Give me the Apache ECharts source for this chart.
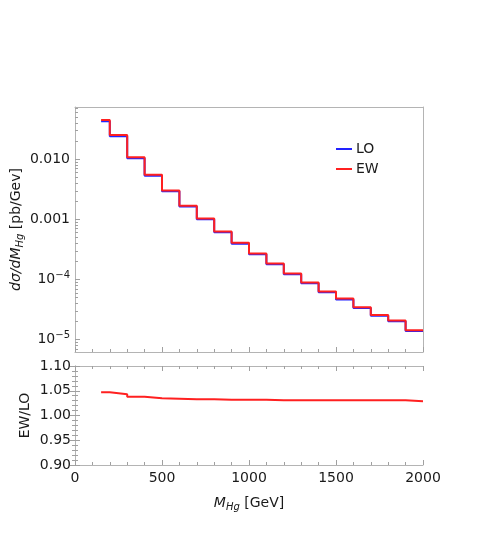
<!DOCTYPE html>
<html>
<head>
<meta charset="utf-8">
<script src="https://cdn.jsdelivr.net/npm/echarts@6/dist/echarts.min.js"></script>
<style>html,body{margin:0;padding:0;background:#fff;}#c{width:498px;height:540px;}</style>
</head>
<body>
<div id="c"></div>
<script>
// Bin edges (GeV)
var binEdges = [150,200,300,400,500,600,700,800,900,1000,1100,1200,1300,1400,1500,1600,1700,1800,1900,2000];
// dσ/dM per bin [pb/GeV]
var ewValues = [0.0452,0.0254,0.0108,0.00554,0.00304,0.00169,0.00104,6.3e-4,4.07e-4,2.71e-4,1.85e-4,1.26e-4,8.9e-5,6.3e-5,4.8e-5,3.45e-5,2.57e-5,2.07e-5,1.43e-5];
var loValues = [0.0432,0.02435,0.0104,0.00535,0.00294,0.001636,0.001007,6.10e-4,3.94e-4,2.63e-4,1.794e-4,1.222e-4,8.63e-5,6.11e-5,4.66e-5,3.35e-5,2.49e-5,2.01e-5,1.39e-5];
// EW/LO ratio per bin
var ratioValues = [1.047,1.043,1.038,1.035,1.034,1.033,1.033,1.032,1.032,1.032,1.031,1.031,1.031,1.031,1.031,1.031,1.031,1.031,1.029];
// Tick values
var xTicks = [0,500,1000,1500,2000];
var logMajor = [1e-5,1e-4,1e-3,1e-2];
var ratioTicks = [0.90,0.95,1.00,1.05,1.10];

function steps(vals){
  var d = [];
  for (var i=0;i<vals.length;i++) d.push([binEdges[i], vals[i]]);
  d.push([binEdges[binEdges.length-1], vals[vals.length-1]]);
  return d;
}
var logMinor = [];
for (var e=-6;e<=-2;e++){ for (var m=2;m<=9;m++){ var v=m*Math.pow(10,e); if (v>6.2e-6 && v<0.0744) logMinor.push(v);} }

var FONT = 'DejaVu Sans';
var TXT = '#1a1a1a';
var FRAME = '#b4b4b4';
var TICK = '#a0a0a0';
var FS = 14;
var yMinTop = 6.2e-6, yMaxTop = 0.0744;

var chart = echarts.init(document.getElementById('c'), null, {renderer:'canvas'});
chart.setOption({
  animation:false,
  backgroundColor:'#fff',
  textStyle:{fontFamily:FONT},
  grid:[
    {left:75, width:348, top:107, height:245, containLabel:false, outerBoundsMode:'none'},
    {left:75, width:348, top:366, height:99, containLabel:false, outerBoundsMode:'none'}
  ],
  legend:{
    data:[{name:'LO', icon:'rect'},{name:'EW', icon:'rect'}], orient:'vertical', left:331, top:137,
    itemWidth:16, itemHeight:2, itemGap:6,
    textStyle:{fontFamily:FONT, fontSize:FS, color:TXT, padding:[0,0,0,-1]}
  },
  xAxis:[
    {gridIndex:0, type:'value', min:0, max:2000, interval:500, position:'bottom',
     axisLine:{lineStyle:{color:FRAME}}, axisLabel:{show:false},
     axisTick:{inside:true, length:5, lineStyle:{color:TICK}},
     minorTick:{show:true, splitNumber:5, length:3, lineStyle:{color:TICK}},
     splitLine:{show:false}},
    {gridIndex:0, type:'value', min:0, max:2000, position:'top',
     axisLine:{lineStyle:{color:FRAME}}, axisLabel:{show:false}, axisTick:{show:false}, splitLine:{show:false}},
    {gridIndex:1, type:'value', min:0, max:2000, interval:500, position:'bottom',
     axisLine:{lineStyle:{color:FRAME}},
     axisLabel:{fontSize:FS, color:TXT, margin:6, fontFamily:FONT, formatter:function(v){return String(v);}},
     axisTick:{inside:true, length:5, lineStyle:{color:TICK}},
     minorTick:{show:true, splitNumber:5, length:3, lineStyle:{color:TICK}},
     splitLine:{show:false},
     name:'{i|M}{s|Hg}{n| [GeV]}', nameLocation:'middle', nameGap:29, nameMoveOverlap:false,
     nameTextStyle:{rich:{
       i:{fontFamily:FONT, fontStyle:'italic', fontSize:FS, color:TXT},
       s:{fontFamily:FONT, fontStyle:'italic', fontSize:10, color:TXT, padding:[8,0,0,0]},
       n:{fontFamily:FONT, fontSize:FS, color:TXT}}}},
    {gridIndex:1, type:'value', min:0, max:2000, interval:500, position:'top',
     axisLine:{lineStyle:{color:FRAME}}, axisLabel:{show:false},
     axisTick:{inside:true, length:5, lineStyle:{color:TICK}},
     minorTick:{show:true, splitNumber:5, length:3, lineStyle:{color:TICK}},
     splitLine:{show:false}}
  ],
  yAxis:[
    {gridIndex:0, type:'log', min:yMinTop, max:yMaxTop, position:'left',
     axisLine:{show:true, lineStyle:{color:FRAME}},
     axisTick:{show:true, inside:true, length:5, customValues:logMajor, lineStyle:{color:TICK}},
     axisLabel:{customValues:logMajor, margin:5, color:TXT, fontSize:FS,
       formatter:function(v){
         var p = Math.round(Math.log10(v));
         if (p >= -3) return '{b|' + v.toFixed(3) + '}';
         return '{b|10}{s|\u2212' + (-p) + '}';
       },
       rich:{b:{fontFamily:FONT, fontSize:FS, color:TXT}, s:{fontFamily:FONT, fontSize:10, color:TXT, padding:[0,0,9,0]}}},
     splitLine:{show:false},
     name:'{i|d\u03c3/dM}{s|Hg}{n| [pb/Gev]}', nameLocation:'middle', nameGap:50, nameRotate:90, nameMoveOverlap:false,
     nameTextStyle:{rich:{
       i:{fontFamily:FONT, fontStyle:'italic', fontSize:FS, color:TXT},
       s:{fontFamily:FONT, fontStyle:'italic', fontSize:10, color:TXT, padding:[8,0,0,0]},
       n:{fontFamily:FONT, fontSize:FS, color:TXT}}}},
    {gridIndex:0, type:'log', min:yMinTop, max:yMaxTop, position:'left',
     axisLine:{show:false}, axisLabel:{show:false},
     axisTick:{show:true, inside:true, length:3, customValues:logMinor, lineStyle:{color:TICK}},
     splitLine:{show:false}},
    {gridIndex:0, type:'log', min:yMinTop, max:yMaxTop, position:'right',
     axisLine:{show:true, lineStyle:{color:FRAME}}, axisLabel:{show:false}, axisTick:{show:false}, splitLine:{show:false}},
    {gridIndex:1, type:'value', min:0.90, max:1.10, interval:0.05, position:'left',
     axisLine:{show:true, lineStyle:{color:FRAME}},
     axisTick:{inside:true, length:5, lineStyle:{color:TICK}},
     minorTick:{show:true, splitNumber:5, length:3, lineStyle:{color:TICK}},
     axisLabel:{margin:4, color:TXT, fontSize:FS, fontFamily:FONT, formatter:function(v){return v.toFixed(2);}},
     splitLine:{show:false},
     name:'EW/LO', nameLocation:'middle', nameGap:43, nameRotate:90, nameMoveOverlap:false,
     nameTextStyle:{fontFamily:FONT, fontSize:FS, color:TXT}},
    {gridIndex:1, type:'value', min:0.90, max:1.10, interval:0.05, position:'right',
     axisLine:{show:true, lineStyle:{color:FRAME}},
     axisTick:{inside:true, length:5, lineStyle:{color:TICK}},
     minorTick:{show:true, splitNumber:5, length:3, lineStyle:{color:TICK}},
     axisLabel:{show:false}, splitLine:{show:false}}
  ],
  series:[
    {name:'LO', type:'line', xAxisIndex:0, yAxisIndex:0, step:'end', symbol:'none',
     data:steps(loValues), lineStyle:{color:'#2222ff', width:2}, itemStyle:{color:'#2222ff'}},
    {name:'EW', type:'line', xAxisIndex:0, yAxisIndex:0, step:'end', symbol:'none',
     data:steps(ewValues), lineStyle:{color:'#ff2020', width:2}, itemStyle:{color:'#ff2020'}},
    {name:'ratio', type:'line', xAxisIndex:2, yAxisIndex:3, step:'end', symbol:'none',
     data:steps(ratioValues), lineStyle:{color:'#ff2020', width:2}}
  ]
});
</script>
</body>
</html>
